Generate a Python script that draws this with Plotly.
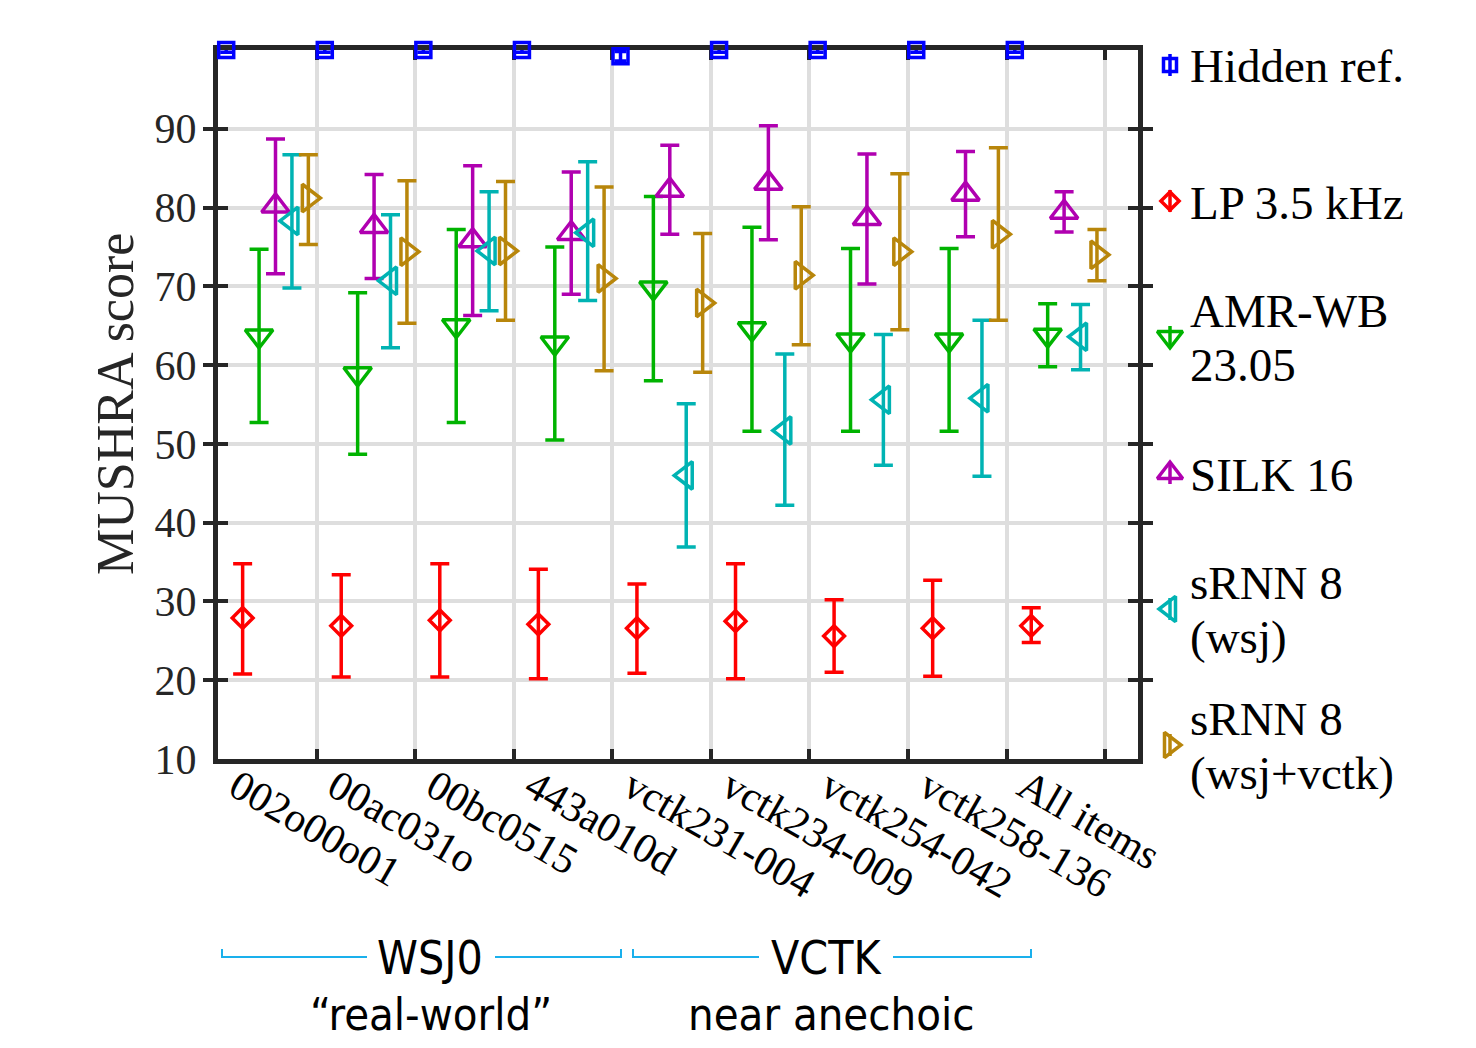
import plotly.graph_objects as go

# ---------------- data ----------------
items = ["002o00o01", "00ac031o", "00bc0515", "443a010d", "vctk231-004",
         "vctk234-009", "vctk254-042", "vctk258-136", "All items"]

series_names = ["Hidden ref.", "LP 3.5 kHz", "AMR-WB 23.05", "SILK 16",
                "sRNN 8 (wsj)", "sRNN 8 (wsj+vctk)"]

hidden_mean = [100, 100, 100, 100, 99.2, 100, 100, 100, 100]
hidden_up   = [100.3, 100.3, 100.3, 100.3, 99.8, 100.3, 100.3, 100.3, 100.3]
hidden_lo   = [99.7, 99.7, 99.7, 99.7, 98.6, 99.7, 99.7, 99.7, 99.7]

lp_mean = [27.9, 26.9, 27.6, 27.1, 26.6, 27.5, 25.6, 26.6, 26.9]
lp_up   = [34.8, 33.4, 34.8, 34.1, 32.2, 34.8, 30.2, 32.7, 29.2]
lp_lo   = [20.8, 20.4, 20.4, 20.2, 20.9, 20.2, 21.0, 20.5, 24.8]

amr_mean = [63.7, 58.9, 65.0, 62.8, 69.8, 64.6, 63.2, 63.2, 63.8]
amr_up   = [74.7, 69.2, 77.2, 75.0, 81.4, 77.5, 74.8, 74.8, 67.8]
amr_lo   = [52.7, 48.7, 52.7, 50.5, 58.0, 51.6, 51.6, 51.6, 59.8]

silk_mean = [80.2, 77.6, 75.8, 76.7, 82.2, 83.1, 78.6, 81.7, 79.4]
silk_up   = [88.7, 84.2, 85.3, 84.5, 87.9, 90.4, 86.8, 87.1, 82.0]
silk_lo   = [71.6, 71.0, 66.3, 69.0, 76.6, 75.9, 70.3, 76.3, 76.9]

wsj_mean = [78.3, 70.7, 74.5, 76.8, 46.0, 51.7, 55.6, 55.8, 63.6]
wsj_up   = [86.7, 79.1, 82.0, 85.8, 55.1, 61.4, 63.9, 65.7, 67.7]
wsj_lo   = [69.8, 62.2, 66.9, 68.2, 36.9, 42.2, 47.3, 45.9, 59.4]

vctk_mean = [81.2, 74.4, 74.5, 71.0, 67.9, 71.4, 74.4, 76.6, 74.0]
vctk_up   = [86.7, 83.4, 83.3, 82.6, 76.7, 80.1, 84.3, 87.6, 77.2]
vctk_lo   = [75.3, 65.3, 65.7, 59.3, 59.1, 62.6, 64.5, 65.7, 70.7]

y_ticks = [10, 20, 30, 40, 50, 60, 70, 80, 90]
x_grid = [1, 2, 3, 4, 5, 6, 7, 8, 9]

# ---------------- styles ----------------
colors = ["#0000FF", "#FF0000", "#00B300", "#B000B0", "#00B3B3", "#B8860B"]
symbols = ["square-open", "diamond-open", "triangle-down-open",
           "triangle-up-open", "triangle-left-open", "triangle-right-open"]
msizes = [15, 16, 24, 24, 24, 24]
capw = [6, 9.5, 9.5, 9.5, 9.5, 9.5]
legend_lines = [["Hidden ref."], ["LP 3.5 kHz"], ["AMR-WB", "23.05"], ["SILK 16"],
                ["sRNN 8", "(wsj)"], ["sRNN 8", "(wsj+vctk)"]]

SERIF = "Liberation Serif"
SANS = "DejaVu Sans Condensed"
AX = "#262626"
GRID = "#DEDEDE"
BRACKET = "#1AB0EC"
LW = 3.5

# page geometry: the html body adds an 8 px margin on every side,
# so the figure is kept 16 px smaller than the window to avoid scrollbars
OFF = 8
PAGE_W, PAGE_H = 1476, 1048
W, H = PAGE_W - 2 * OFF, PAGE_H - 2 * OFF
PL, PR, PT, PB = 218, 1138, 50, 759          # plot frame, page pixels
ML, MT = PL - OFF, PT - OFF
MR = 12
MB = H - (PB - OFF)
PW = W - ML - MR
PH = H - MT - MB
MAIN_W = PR - PL
dom_end = MAIN_W / PW


def px_x(p):
    return (p - PL) / PW


def px_y(p):
    return (PB - p) / PH


all_series = [
    (hidden_mean, hidden_up, hidden_lo),
    (lp_mean, lp_up, lp_lo),
    (amr_mean, amr_up, amr_lo),
    (silk_mean, silk_up, silk_lo),
    (wsj_mean, wsj_up, wsj_lo),
    (vctk_mean, vctk_up, vctk_lo),
]
n_s = len(all_series)

fig = go.Figure()

for i, (m, up, lo) in enumerate(all_series):
    xs = [j + (i + 0.5) / n_s for j in range(len(items))]
    fig.add_trace(go.Scatter(
        x=xs, y=m, mode="markers", name=series_names[i],
        marker=dict(symbol=symbols[i], size=msizes[i], color=colors[i],
                    line=dict(width=LW, color=colors[i])),
        error_y=dict(type="data", symmetric=False,
                     array=[u - v for u, v in zip(up, m)],
                     arrayminus=[v - l for v, l in zip(m, lo)],
                     color=colors[i], thickness=LW, width=capw[i]),
        cliponaxis=False, showlegend=False, hoverinfo="skip",
    ))

# empty trace to carry the tick-label overlay axis
fig.add_trace(go.Scatter(x=[], y=[], xaxis="x2", yaxis="y", showlegend=False))

# manual legend (markers on a helper axis measured in page pixels)
leg_x_marker = 1170
leg_x_text = 1188
leg_top = 65
leg_step = 136
for i in range(n_s):
    cy = leg_top + leg_step * i
    fig.add_trace(go.Scatter(
        x=[leg_x_marker], y=[cy], xaxis="x3", yaxis="y3", mode="markers",
        marker=dict(symbol=symbols[i], size=msizes[i] - 2, color=colors[i],
                    line=dict(width=LW, color=colors[i])),
        error_y=dict(type="constant", value=11, color=colors[i], thickness=LW, width=0),
        cliponaxis=False, showlegend=False, hoverinfo="skip",
    ))
    lines = legend_lines[i]
    offs = [1.5] if len(lines) == 1 else [-26, 28]
    for txt, off in zip(lines, offs):
        fig.add_annotation(x=px_x(leg_x_text), y=px_y(cy + off), xref="paper", yref="paper",
                           text=txt, showarrow=False, xanchor="left", yanchor="middle",
                           font=dict(family=SERIF, size=47, color="black"))

# y label
fig.add_annotation(x=px_x(115), y=px_y(404), xref="paper", yref="paper",
                   text="MUSHRA score", textangle=-90, showarrow=False,
                   xanchor="center", yanchor="middle",
                   font=dict(family=SERIF, size=52, color=AX))

# group labels under the axis
groups = [
    ("WSJ0", "\u201creal-world\u201d", 222, 621, 367, 495, 430, 431),
    ("VCTK", "near anechoic", 633, 1031, 759, 893, 826, 831),
]
for name, sub, x0, x1, g0, g1, cx, sx in groups:
    path = (f"M {px_x(x0)},{px_y(949)} L {px_x(x0)},{px_y(957)} L {px_x(g0)},{px_y(957)} "
            f"M {px_x(g1)},{px_y(957)} L {px_x(x1)},{px_y(957)} L {px_x(x1)},{px_y(949)}")
    fig.add_shape(type="path", path=path, xref="paper", yref="paper",
                  line=dict(color=BRACKET, width=2))
    fig.add_annotation(x=px_x(cx), y=px_y(958), xref="paper", yref="paper",
                       text=name, showarrow=False, xanchor="center", yanchor="middle",
                       font=dict(family=SANS, size=46, color="black"))
    fig.add_annotation(x=px_x(sx), y=px_y(1015), xref="paper", yref="paper",
                       text=sub, showarrow=False, xanchor="center", yanchor="middle",
                       font=dict(family=SANS, size=45, color="black"))

x_range = [0, 9.333]

fig.update_layout(
    width=W, height=H,
    margin=dict(l=ML, r=MR, t=MT, b=MB, pad=0, autoexpand=False),
    paper_bgcolor="white", plot_bgcolor="white",
    showlegend=False,
    xaxis=dict(domain=[0, dom_end], range=x_range, tickmode="array", tickvals=x_grid,
               showticklabels=False, ticks="inside", ticklen=10, tickwidth=4,
               tickcolor=AX, showline=True, linewidth=5, linecolor=AX,
               mirror="allticks", showgrid=True, gridcolor=GRID, gridwidth=4,
               zeroline=False, layer="below traces", anchor="y", automargin=False),
    xaxis2=dict(domain=[0, dom_end], range=x_range, overlaying="x", anchor="y",
                side="bottom", tickmode="array",
                tickvals=[j + 0.19 for j in range(len(items))], ticktext=items,
                tickangle=30, ticks="", showline=False, showgrid=False,
                zeroline=False, ticklabelstandoff=-6, automargin=False,
                tickfont=dict(family=SERIF, size=42, color="black")),
    yaxis=dict(domain=[0, 1], range=[10, 100], tickmode="array", tickvals=y_ticks,
               ticks="inside", ticklen=10, tickwidth=4, tickcolor=AX,
               showline=True, linewidth=5, linecolor=AX, mirror="allticks",
               showgrid=True, gridcolor=GRID, gridwidth=4, zeroline=False,
               layer="below traces", ticklabelstandoff=8, automargin=False,
               tickfont=dict(family=SERIF, size=42, color=AX), anchor="x"),
    xaxis3=dict(domain=[dom_end, 1], range=[PR, PR + (1 - dom_end) * PW], anchor="y3",
                visible=False),
    yaxis3=dict(domain=[0, 1], range=[PB, PT], anchor="x3", visible=False),
)

fig.write_html("out.html")
